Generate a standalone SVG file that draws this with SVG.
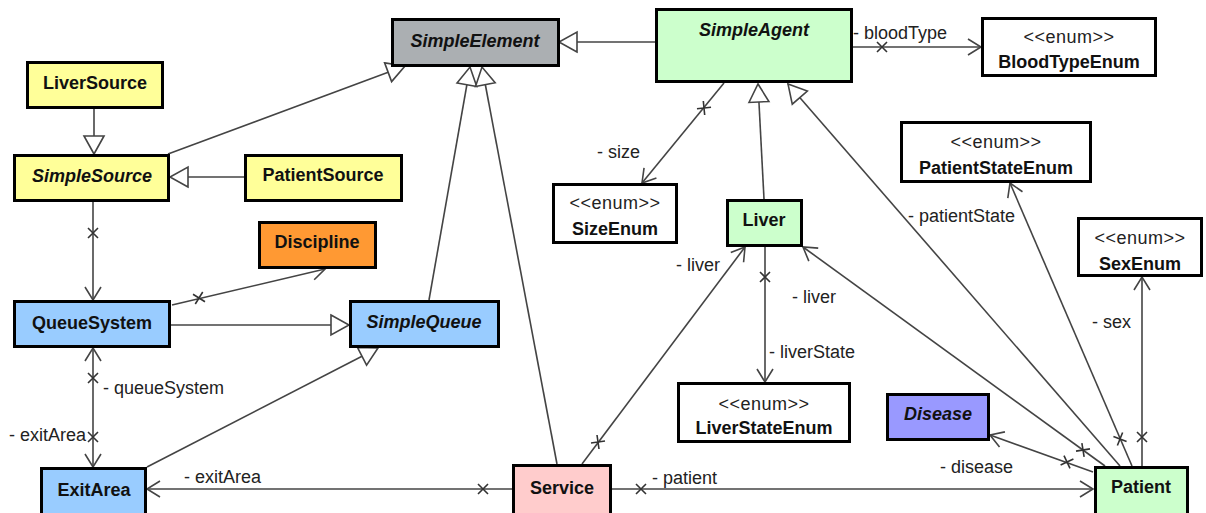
<svg xmlns="http://www.w3.org/2000/svg" xmlns:xlink="http://www.w3.org/1999/xlink" width="1206" height="513" viewBox="0 0 1206 513">
<style>
.box{stroke:#000;stroke-width:3}
.n{font-family:"Liberation Sans",Arial,sans-serif;font-weight:bold;font-size:18px;fill:#111;text-anchor:middle}
.i{font-style:italic}
.st{font-family:"Liberation Sans",Arial,sans-serif;font-size:18px;fill:#222;text-anchor:middle;letter-spacing:0.5px}
.lb{font-family:"Liberation Sans",Arial,sans-serif;font-size:18px;fill:#222}
.c{fill:none;stroke:#444;stroke-width:1.6}
.gen{marker-end:url(#tri)}
.asc{marker-end:url(#open)}
.both{marker-start:url(#open);marker-end:url(#open)}
.xm{fill:none;stroke:#333;stroke-width:1.6}
</style>
<defs>
<marker id="open" markerUnits="userSpaceOnUse" markerWidth="30" markerHeight="30" refX="0" refY="0" orient="auto-start-reverse" overflow="visible">
<path d="M-13,-8 L0,0 L-13,8" fill="none" stroke="#444" stroke-width="1.6"/>
</marker>
<marker id="tri" markerUnits="userSpaceOnUse" markerWidth="30" markerHeight="30" refX="0" refY="0" orient="auto" overflow="visible">
<path d="M-18,-10 L0,0 L-18,10 Z" fill="#fff" stroke="#444" stroke-width="1.6"/>
</marker>
<path id="xm" d="M-5,-5 L5,5 M-5,5 L5,-5"/>
</defs>
<rect width="1206" height="513" fill="#fff"/>

<g id="connectors">
<path class="c gen" d="M655,42 L559,42"/>
<path class="c gen" d="M168,154 L405,66"/>
<path class="c gen" d="M94,109 L94,154"/>
<path class="c gen" d="M244,177 L170,177"/>
<path class="c asc" d="M93,202 L93,300"/>
<path class="c asc" d="M172,305 L325,269"/>
<path class="c gen" d="M171,325 L349,325"/>
<path class="c gen" d="M429,300 L470,67"/>
<path class="c gen" d="M557,464 L482,67"/>
<path class="c gen" d="M147,467 L378,348"/>
<path class="c both" d="M93,348 L93,467"/>
<path class="c asc" d="M512,489 L147,489"/>
<path class="c asc" d="M612,489 L1093,489"/>
<path class="c asc" d="M582,464 L745,247"/>
<path class="c asc" d="M765,247 L765,382"/>
<path class="c asc" d="M1105,466 L803,247"/>
<path class="c gen" d="M1120,466 L788,84"/>
<path class="c asc" d="M1132,466 L1010,183"/>
<path class="c asc" d="M1142,466 L1142,277"/>
<path class="c asc" d="M1093,472 L990,435"/>
<path class="c asc" d="M853,47 L981,47"/>
<path class="c asc" d="M724,83 L642,183"/>
<path class="c gen" d="M764,199 L758,84"/>
<g class="xm">
<use xlink:href="#xm" href="#xm" transform="translate(93,233)"/>
<use xlink:href="#xm" href="#xm" transform="translate(199,298) rotate(-13.2)"/>
<use xlink:href="#xm" href="#xm" transform="translate(93,378)"/>
<use xlink:href="#xm" href="#xm" transform="translate(93,437)"/>
<use xlink:href="#xm" href="#xm" transform="translate(483,489)"/>
<use xlink:href="#xm" href="#xm" transform="translate(641,489)"/>
<use xlink:href="#xm" href="#xm" transform="translate(598,442) rotate(-53.1)"/>
<use xlink:href="#xm" href="#xm" transform="translate(765,277)"/>
<use xlink:href="#xm" href="#xm" transform="translate(1083,450) rotate(35.9)"/>
<use xlink:href="#xm" href="#xm" transform="translate(1120,439) rotate(66.7)"/>
<use xlink:href="#xm" href="#xm" transform="translate(1142,437)"/>
<use xlink:href="#xm" href="#xm" transform="translate(1067,462) rotate(19.8)"/>
<use xlink:href="#xm" href="#xm" transform="translate(882,47)"/>
<use xlink:href="#xm" href="#xm" transform="translate(704,108) rotate(39.4)"/>
</g>
<text class="lb" x="853" y="39">- bloodType</text>
<text class="lb" x="597" y="158">- size</text>
<text class="lb" x="908" y="222">- patientState</text>
<text class="lb" x="676" y="271">- liver</text>
<text class="lb" x="792" y="303">- liver</text>
<text class="lb" x="1092" y="328">- sex</text>
<text class="lb" x="769" y="358">- liverState</text>
<text class="lb" x="103" y="394">- queueSystem</text>
<text class="lb" x="9" y="441">- exitArea</text>
<text class="lb" x="184" y="483">- exitArea</text>
<text class="lb" x="652" y="484">- patient</text>
<text class="lb" x="940" y="473">- disease</text>
</g>

<g id="SimpleElement"><rect class="box" x="392.5" y="19.5" width="166" height="46" fill="#abafb2"/><text class="n i" x="475" y="47">SimpleElement</text></g>
<g id="SimpleAgent"><rect class="box" x="656.5" y="9.5" width="195" height="72" fill="#ccffcc"/><text class="n i" x="754" y="36">SimpleAgent</text></g>
<g id="BloodTypeEnum"><rect class="box" x="982.5" y="18.5" width="173" height="57" fill="#fff"/><text class="st" x="1069" y="43">&lt;&lt;enum&gt;&gt;</text><text class="n" x="1069" y="68">BloodTypeEnum</text></g>
<g id="LiverSource"><rect class="box" x="27.5" y="62.5" width="135" height="45" fill="#ffff99"/><text class="n" x="95" y="89">LiverSource</text></g>
<g id="SimpleSource"><rect class="box" x="14.5" y="155.5" width="154" height="45" fill="#ffff99"/><text class="n i" x="92" y="182">SimpleSource</text></g>
<g id="PatientSource"><rect class="box" x="245.5" y="155.5" width="156" height="45" fill="#ffff99"/><text class="n" x="323" y="181">PatientSource</text></g>
<g id="Discipline"><rect class="box" x="259.5" y="222.5" width="116" height="45" fill="#ff9933"/><text class="n" x="317" y="248">Discipline</text></g>
<g id="SizeEnum"><rect class="box" x="553.5" y="184.5" width="123" height="58" fill="#fff"/><text class="st" x="615" y="209">&lt;&lt;enum&gt;&gt;</text><text class="n" x="615" y="235">SizeEnum</text></g>
<g id="Liver"><rect class="box" x="727.5" y="200.5" width="74" height="45" fill="#ccffcc"/><text class="n" x="764" y="226">Liver</text></g>
<g id="PatientStateEnum"><rect class="box" x="901.5" y="122.5" width="189" height="59" fill="#fff"/><text class="st" x="996" y="148">&lt;&lt;enum&gt;&gt;</text><text class="n" x="996" y="174">PatientStateEnum</text></g>
<g id="SexEnum"><rect class="box" x="1078.5" y="218.5" width="123" height="57" fill="#fff"/><text class="st" x="1140" y="244">&lt;&lt;enum&gt;&gt;</text><text class="n" x="1140" y="270">SexEnum</text></g>
<g id="QueueSystem"><rect class="box" x="14.5" y="301.5" width="155" height="45" fill="#99ccff"/><text class="n" x="92" y="329">QueueSystem</text></g>
<g id="SimpleQueue"><rect class="box" x="350.5" y="301.5" width="148" height="45" fill="#99ccff"/><text class="n i" x="424" y="328">SimpleQueue</text></g>
<g id="LiverStateEnum"><rect class="box" x="678.5" y="383.5" width="171" height="58" fill="#fff"/><text class="st" x="764" y="410">&lt;&lt;enum&gt;&gt;</text><text class="n" x="764" y="434">LiverStateEnum</text></g>
<g id="Disease"><rect class="box" x="887.5" y="394.5" width="101" height="45" fill="#9999ff"/><text class="n i" x="938" y="420">Disease</text></g>
<g id="ExitArea"><rect class="box" x="41.5" y="468.5" width="104" height="50" fill="#99ccff"/><text class="n" x="94" y="496">ExitArea</text></g>
<g id="Service"><rect class="box" x="513.5" y="465.5" width="97" height="52" fill="#ffcccc"/><text class="n" x="562" y="494">Service</text></g>
<g id="Patient"><rect class="box" x="1095.5" y="467.5" width="92" height="52" fill="#ccffcc"/><text class="n" x="1141" y="493">Patient</text></g>
</svg>
